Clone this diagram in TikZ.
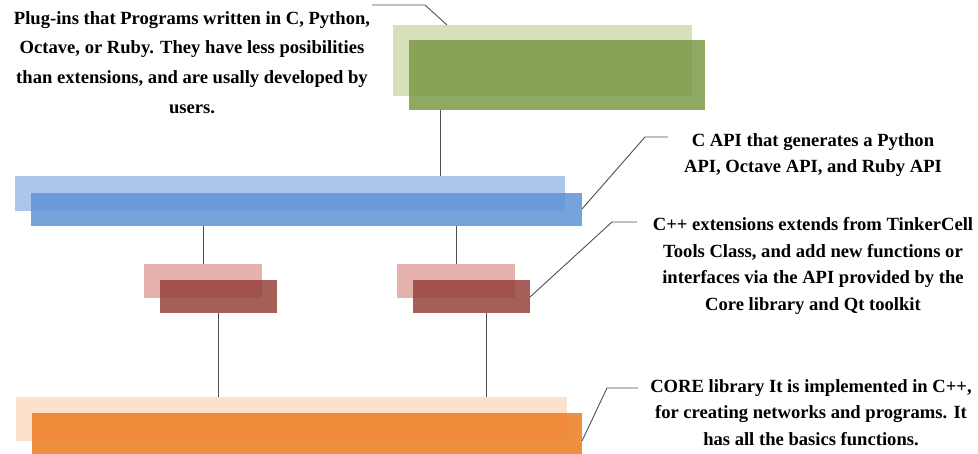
\documentclass[tikz,border=0pt]{standalone}
\usepackage{fontspec}
\setmainfont{Liberation Serif}
\definecolor{greenL}{RGB}{214,225,186}
\definecolor{greenD}{RGB}{123,153,70}
\definecolor{blueL}{RGB}{171,197,235}
\definecolor{blueD}{RGB}{95,147,215}
\definecolor{redL}{RGB}{228,177,172}
\definecolor{redD}{RGB}{150,67,59}
\definecolor{orangeL}{RGB}{252,226,204}
\definecolor{orangeD}{RGB}{236,123,31}
\definecolor{lineC}{RGB}{80,80,80}
\begin{document}
\begin{tikzpicture}[x=1pt,y=-1pt,
  lightbar/.style={anchor=north west,inner sep=0pt,outer sep=0pt,draw=none},
  darkbar/.style={anchor=north west,inner sep=0pt,outer sep=0pt,draw=none,fill opacity=0.85},
  conn/.style={draw=lineC,line width=0.9pt},
  lbl/.style={align=center,inner sep=0pt,font={\fontsize{18.6}{26.6}\selectfont\bfseries}}]
\useasboundingbox (0,0) rectangle (978,454);
% green
\node[lightbar,fill=greenL,minimum width=299pt,minimum height=71pt] (gl) at (393,25) {};
\node[darkbar,fill=greenD,minimum width=296pt,minimum height=70pt] (gd) at (409,40) {};
% blue
\node[lightbar,fill=blueL,minimum width=550pt,minimum height=35pt] (bl) at (15,176) {};
\node[darkbar,fill=blueD,minimum width=551pt,minimum height=33pt] (bd) at (31,193) {};
% red
\node[lightbar,fill=redL,minimum width=118pt,minimum height=34pt] (rl1) at (144,264) {};
\node[darkbar,fill=redD,minimum width=117pt,minimum height=33pt] (rd1) at (160,280) {};
\node[lightbar,fill=redL,minimum width=118pt,minimum height=34pt] (rl2) at (397,264) {};
\node[darkbar,fill=redD,minimum width=117pt,minimum height=33pt] (rd2) at (413,280) {};
% orange
\node[lightbar,fill=orangeL,minimum width=551pt,minimum height=44pt] (ol) at (16,397) {};
\node[darkbar,fill=orangeD,minimum width=550pt,minimum height=41pt] (od) at (32,413) {};
% texts
\node[lbl,font={\fontsize{18.6}{29.7}\selectfont\bfseries}] (tplug) at (192,62.5) {Plug-ins that Programs written in C, Python,\\Octave, or Ruby. They have less posibilities\\than extensions, and are usally developed by\\users.};
\node[lbl] (tapi) at (813,155) {C API that generates a Python\\API, Octave API, and Ruby API};
\node[lbl] (text) at (813,266) {C++ extensions extends from TinkerCell\\Tools Class, and add new functions or\\interfaces via the API provided by the\\Core library and Qt toolkit};
\node[lbl] (tcore) at (811,412.5) {CORE library It is implemented in C++,\\for creating networks and programs. It\\has all the basics functions.};
% vertical connectors
\coordinate (x1) at (440,0);
\coordinate (x2) at (203,0);
\coordinate (x3) at (456,0);
\coordinate (x4) at (218,0);
\coordinate (x5) at (486,0);
\draw[conn] (x1 |- gd.south) -- (x1 |- bl.north);
\draw[conn] (x2 |- bd.south) -- (x2 |- rl1.north);
\draw[conn] (x3 |- bd.south) -- (x3 |- rl2.north);
\draw[conn] (x4 |- rd1.south) -- (x4 |- ol.north);
\draw[conn] (x5 |- rd2.south) -- (x5 |- ol.north);
% leader lines
\coordinate (p1a) at (372,5);
\coordinate (p1b) at (425,5);
\coordinate (p1c) at (447,0);
\draw[conn] (p1a) -- (p1b) -- (p1c |- gl.north);
\coordinate (p2a) at (0,209);
\coordinate (p2b) at (645,137);
\coordinate (p2c) at (668,137);
\draw[conn] (p2a -| bd.east) -- (p2b) -- (p2c);
\coordinate (p3a) at (0,297);
\coordinate (p3b) at (612,222);
\coordinate (p3c) at (637,222);
\draw[conn] (p3a -| rd2.east) -- (p3b) -- (p3c);
\coordinate (p4a) at (0,441);
\coordinate (p4b) at (607,388);
\coordinate (p4c) at (638,388);
\draw[conn] (p4a -| od.east) -- (p4b) -- (p4c);
\end{tikzpicture}
\end{document}
